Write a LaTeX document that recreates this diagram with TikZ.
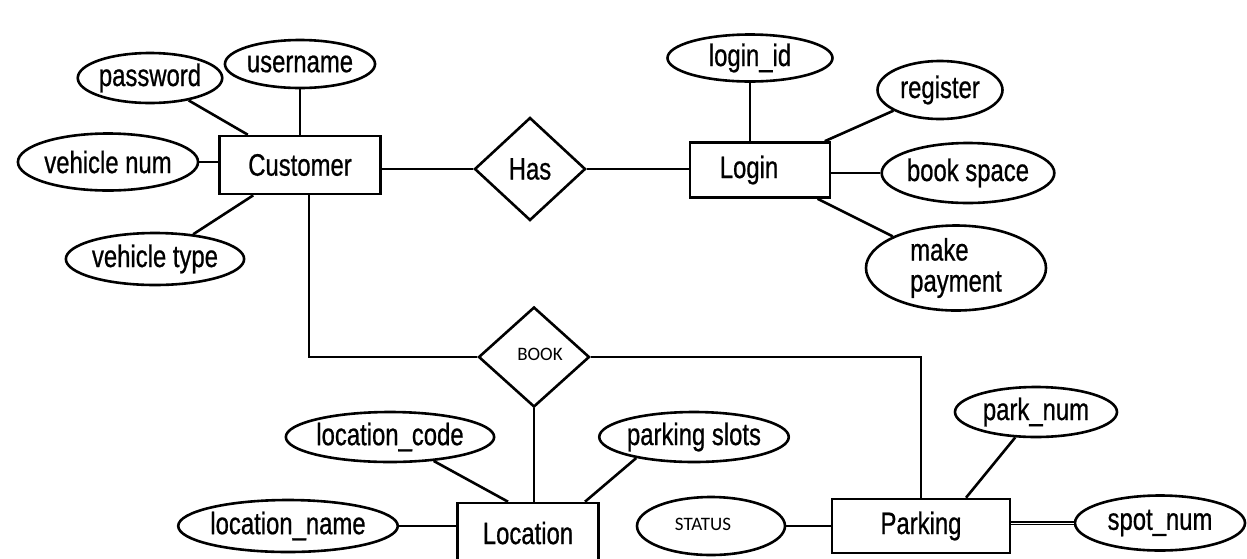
\documentclass[tikz,border=0pt]{standalone}
\usepackage{fontspec}
\setmainfont{Liberation Sans}[FakeStretch=0.77,FakeBold=0.7]
\newfontfamily\calfont{Carlito}
\usetikzlibrary{shapes.geometric,positioning,calc}

\begin{document}
\begin{tikzpicture}[x=1pt,y=-1pt,line width=2.6pt,
  every node/.style={font=\fontsize{31}{31}\selectfont},
  ent/.style={draw,rectangle,inner sep=0pt,minimum height=55pt},
  attr/.style={draw,ellipse,inner sep=0pt},
  rel/.style={draw,diamond,inner sep=0pt,minimum width=111pt},
  small/.style={font=\calfont\fontsize{19}{20}\selectfont}]
\useasboundingbox (0,0) rectangle (1247,558);
% entities
\node[ent,minimum width=161pt,minimum height=58pt] (cust) at (300,165) {Customer};
\node[ent,minimum width=140pt] (login) at (760,170) {\hspace*{-22pt}Login};
\node[ent,minimum width=141pt,minimum height=60pt] (loc) at (528,533) {Location};
\node[ent,minimum width=178pt,minimum height=54pt] (park) at (921,526) {Parking};
% relations
\node[rel,minimum height=103pt] (has) at (530,169) {Has};
\node[rel,minimum height=100pt,small] (book) at (534,357) {\raisebox{6pt}{\hspace*{12pt}BOOK}};
% customer attributes
\node[attr,minimum width=150pt,minimum height=48pt] (user) at (300,64) {username};
\node[attr,minimum width=142pt,minimum height=50pt] (pass) at (150,78) {password};
\node[attr,minimum width=143pt,minimum height=57pt] (vnum) at (108,162) {vehicle num};
\node[attr,minimum width=151pt,minimum height=52pt] (vtype) at (155,259) {vehicle type};
% login attributes
\node[attr,minimum width=165pt,minimum height=47pt] (lid) at (750,58) {login\_id};
\node[attr,minimum width=125pt,minimum height=58pt] (reg) at (940,90) {register};
\node[attr,minimum width=145pt,minimum height=60pt] (bspace) at (968,173) {book space};
\node[attr,minimum width=180pt,minimum height=85pt,align=left] (pay) at (956,268) {make\\payment};
% location attributes
\node[attr,minimum width=193pt,minimum height=50pt] (lcode) at (390,437) {location\_code};
\node[attr,minimum width=167pt,minimum height=52pt] (lname) at (288,526) {location\_name};
\node[attr,minimum width=168pt,minimum height=50pt] (pslots) at (694,437) {parking slots};
% parking attributes
\node[attr,minimum width=148pt,minimum height=58pt,small] (status) at (711,526) {\raisebox{4pt}{\hspace*{-16pt}STATUS}};
\node[attr,minimum width=162pt,minimum height=50pt] (pnum) at (1036,412) {park\_num};
\node[attr,minimum width=170pt,minimum height=55pt] (snum) at (1160,523) {spot\_num};

\draw (user) -- (user |- cust.north);
\draw (pass) -- (cust);
\draw (vnum) -- (vnum -| cust.west);
\draw (vtype) -- (cust);
\draw (cust.east |- has) -- (has);
\draw (has) -- (has -| login.west);
\draw (lid) -- (lid |- login.north);
\draw (reg) -- (login);
\draw (login.east |- bspace) -- (bspace);
\draw (pay) -- (login);
\draw ([xshift=9pt]cust.south) |- (book);
\draw (book) -| (park);
\draw (book) -- (book |- loc.north);
\draw (lcode) -- ([xshift=-20pt]loc.north);
\draw (pslots.200) -- ([xshift=57pt]loc.north);
\draw (lname) -- (lname -| loc.west);
\draw (status) -- (status -| park.west);
\draw (pnum) -- ([xshift=45pt]park.north);
\draw[double,double distance=0.8pt,line width=1.3pt] (park.east |- snum) -- (snum);
\end{tikzpicture}
\end{document}
